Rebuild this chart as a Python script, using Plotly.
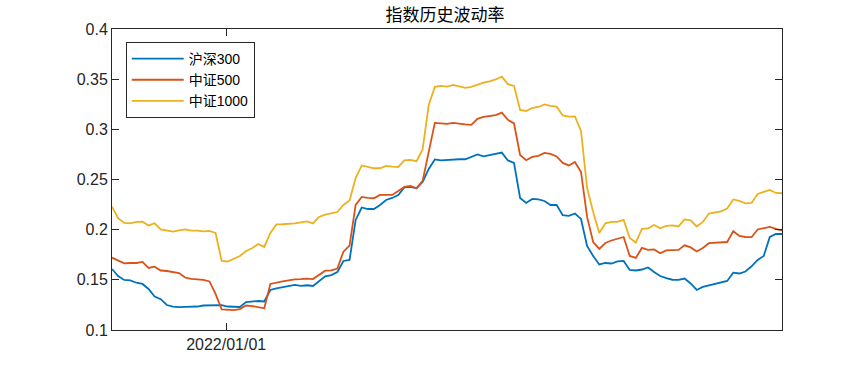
import pandas as pd
import plotly.graph_objects as go

# Sampling dates (every 4 calendar days)
dates = pd.date_range("2021-10-18", periods=111, freq="4D")

hs300 = [0.1608, 0.1538, 0.1499, 0.1494, 0.1471, 0.1459, 0.1409, 0.1334, 0.1307, 0.1249,
         0.1232, 0.1227, 0.1231, 0.1229, 0.1234, 0.1244, 0.1244, 0.1242, 0.1247, 0.1234,
         0.1229, 0.1229, 0.1279, 0.1284, 0.1289, 0.1284, 0.1399, 0.1416, 0.1429, 0.1439,
         0.1449, 0.1439, 0.1446, 0.1439, 0.1489, 0.1535, 0.1548, 0.1578, 0.1688, 0.1698,
         0.2097, 0.2221, 0.2206, 0.2206, 0.2246, 0.2296, 0.2316, 0.2346, 0.2421, 0.2426,
         0.2413, 0.2476, 0.2605, 0.2700, 0.2690, 0.2695, 0.2695, 0.2702, 0.2702, 0.2725,
         0.2750, 0.2730, 0.2742, 0.2750, 0.2768, 0.2690, 0.2665, 0.2316, 0.2266, 0.2306,
         0.2301, 0.2286, 0.2246, 0.2246, 0.2144, 0.2137, 0.2161, 0.2107, 0.1837, 0.1738,
         0.1653, 0.1668, 0.1663, 0.1683, 0.1688, 0.1598, 0.1593, 0.1603, 0.1623, 0.1578,
         0.1538, 0.1518, 0.1501, 0.1499, 0.1513, 0.1464, 0.1399, 0.1429, 0.1444, 0.1454,
         0.1469, 0.1489, 0.1571, 0.1563, 0.1583, 0.1635, 0.1698, 0.1738, 0.1927, 0.1957,
         0.1957]

zz500 = [0.1721, 0.1691, 0.1665, 0.1668, 0.1668, 0.1678, 0.1618, 0.1631, 0.1593, 0.1588,
         0.1581, 0.1568, 0.1523, 0.1510, 0.1505, 0.1499, 0.1484, 0.1359, 0.1206, 0.1201,
         0.1199, 0.1209, 0.1244, 0.1239, 0.1226, 0.1216, 0.1459, 0.1474, 0.1484, 0.1494,
         0.1505, 0.1508, 0.1513, 0.1508, 0.1548, 0.1591, 0.1595, 0.1613, 0.1781, 0.1842,
         0.2246, 0.2326, 0.2316, 0.2313, 0.2346, 0.2346, 0.2346, 0.2386, 0.2426, 0.2436,
         0.2413, 0.2486, 0.2785, 0.3064, 0.3059, 0.3054, 0.3064, 0.3054, 0.3049, 0.3044,
         0.3104, 0.3124, 0.3131, 0.3141, 0.3166, 0.3094, 0.3059, 0.2745, 0.2692, 0.2725,
         0.2735, 0.2765, 0.2755, 0.2730, 0.2665, 0.2640, 0.2675, 0.2575, 0.2127, 0.1877,
         0.1808, 0.1867, 0.1892, 0.1907, 0.1927, 0.1738, 0.1718, 0.1818, 0.1798, 0.1803,
         0.1765, 0.1793, 0.1798, 0.1798, 0.1844, 0.1823, 0.1783, 0.1818, 0.1865, 0.1867,
         0.1870, 0.1877, 0.1985, 0.1937, 0.1927, 0.1925, 0.2002, 0.2017, 0.2027, 0.2007,
         0.1990]

zz1000 = [0.2229, 0.2114, 0.2067, 0.2062, 0.2077, 0.2080, 0.2042, 0.2064, 0.2002, 0.1990,
          0.1980, 0.1992, 0.2002, 0.1990, 0.1990, 0.1982, 0.1987, 0.1967, 0.1688, 0.1683,
          0.1713, 0.1738, 0.1788, 0.1815, 0.1857, 0.1828, 0.1967, 0.2052, 0.2054, 0.2055,
          0.2062, 0.2072, 0.2082, 0.2062, 0.2127, 0.2149, 0.2161, 0.2176, 0.2246, 0.2291,
          0.2515, 0.2640, 0.2625, 0.2612, 0.2612, 0.2635, 0.2628, 0.2625, 0.2690, 0.2695,
          0.2682, 0.2800, 0.3243, 0.3423, 0.3433, 0.3426, 0.3443, 0.3428, 0.3413, 0.3423,
          0.3443, 0.3466, 0.3478, 0.3497, 0.3525, 0.3450, 0.3433, 0.3193, 0.3183, 0.3213,
          0.3223, 0.3248, 0.3233, 0.3226, 0.3139, 0.3127, 0.3129, 0.2984, 0.2416, 0.2176,
          0.1967, 0.2064, 0.2077, 0.2077, 0.2097, 0.1917, 0.1872, 0.2007, 0.2012, 0.2047,
          0.2014, 0.2037, 0.2042, 0.2032, 0.2102, 0.2092, 0.2032, 0.2077, 0.2161, 0.2171,
          0.2183, 0.2211, 0.2301, 0.2286, 0.2263, 0.2266, 0.2356, 0.2376, 0.2396, 0.2366,
          0.2363]

series_names = ["沪深300", "中证500", "中证1000"]
series_values = [hs300, zz500, zz1000]
colors = ["#0072BD", "#D95319", "#EDB120"]

y_ticks = [0.1, 0.15, 0.2, 0.25, 0.3, 0.35, 0.4]
y_tick_labels = ["0.1", "0.15", "0.2", "0.25", "0.3", "0.35", "0.4"]
x_ticks = ["2022-01-01"]
x_tick_labels = ["2022/01/01"]

FONT = "Liberation Sans, Arial, Noto Sans CJK SC, sans-serif"
AXCOL = "#262626"

W, H = 865, 371

fig = go.Figure()
for name, vals, col in zip(series_names, series_values, colors):
    fig.add_trace(go.Scatter(x=dates, y=vals, mode="lines", name=name,
                             line=dict(color=col, width=1.8)))

axis_common = dict(showline=True, linecolor=AXCOL, linewidth=1, mirror="ticks",
                   ticks="inside", ticklen=7, tickcolor=AXCOL, tickwidth=1,
                   showgrid=False, zeroline=False,
                   tickfont=dict(family=FONT, size=16, color=AXCOL))

fig.update_layout(
    width=W, height=H,
    margin=dict(l=112, r=83, t=29, b=41),
    paper_bgcolor="white", plot_bgcolor="white",
    title=dict(text="指数历史波动率", x=445 / W, xanchor="center",
               y=1 - 15.5 / H, yanchor="middle",
               font=dict(family="Noto Sans CJK SC, sans-serif", size=17, color="#000000")),
    xaxis=dict(range=[dates[0], dates[-1]], tickvals=x_ticks, ticktext=x_tick_labels,
               **axis_common),
    yaxis=dict(range=[0.1, 0.4], tickvals=y_ticks, ticktext=y_tick_labels,
               **axis_common),
    legend=dict(x=0.0205, y=0.957, xanchor="left", yanchor="top",
                bgcolor="white", bordercolor="#262626", borderwidth=1,
                font=dict(family=FONT, size=14, color="#000000"),
                tracegroupgap=0, itemwidth=52),
    showlegend=True,
)

# remove the default page margin so the figure sits at the window's top-left corner
fig.write_html("out.html", config={"displayModeBar": False},
               post_script="document.body.style.margin='0';")
